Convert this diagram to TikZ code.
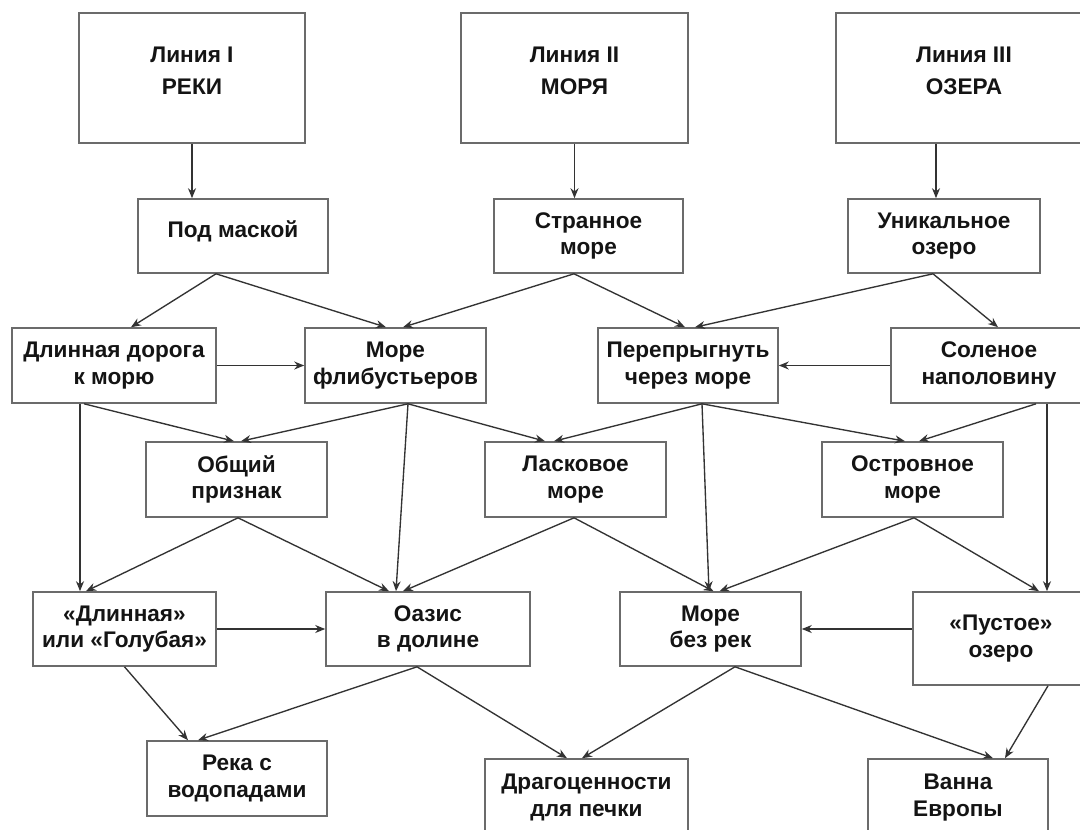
\documentclass[tikz,border=0pt]{standalone}
\usepackage{fontspec}
\setmainfont{Liberation Sans}
\usetikzlibrary{arrows.meta}
\definecolor{boxgray}{gray}{0.42}
\definecolor{linegray}{gray}{0.2}
\definecolor{textblack}{gray}{0.08}
\newcommand{\rb}[2]{\raisebox{#1}[\height][\depth]{\begin{tabular}{@{}c@{}}#2\end{tabular}}}
\begin{document}
\begin{tikzpicture}[x=1pt,y=-1pt,
  box/.style={draw=boxgray,line width=1.6pt,inner sep=0pt,minimum height=75pt,
    font=\bfseries\fontsize{22.6pt}{26.5pt}\selectfont,text=textblack,align=center},
  lbox/.style={box,minimum height=130pt,font=\bfseries\fontsize{22.6pt}{32pt}\selectfont},
  arr/.style={draw=linegray,line width=1.35pt,-{Stealth[length=10pt,width=8pt]}}]
\useasboundingbox (0,0) rectangle (1080,830);
\fill[white] (0,0) rectangle (1080,830);
\clip (0,0) rectangle (1080,830);
% row 1
\node[lbox,minimum width=226pt] (L1) at (192,78) {\rb{6pt}{Линия I\\РЕКИ}};
\node[lbox,minimum width=227pt] (L2) at (574.5,78) {\rb{6pt}{Линия II\\МОРЯ}};
\node[lbox,minimum width=256pt] (L3) at (964,78) {\rb{6pt}{Линия III\\ОЗЕРА}};
% row 2
\node[box,minimum width=190pt,minimum height=74pt] (pm) at (233,236) {\rb{4pt}{Под маской}};
\node[box,minimum width=189pt,minimum height=74pt] (sm) at (588.5,236) {Странное\\море};
\node[box,minimum width=192pt,minimum height=74pt] (uo) at (944,236) {Уникальное\\озеро};
% row 3
\node[box,minimum width=204pt] (dd) at (114,365.5) {Длинная дорога\\к морю};
\node[box,minimum width=181pt] (mf) at (395.5,365.5) {Море\\флибустьеров};
\node[box,minimum width=180pt] (pp) at (688,365.5) {Перепрыгнуть\\через море};
\node[box,minimum width=196pt] (sn) at (989,365.5) {Соленое\\наполовину};
% row 4
\node[box,minimum width=181pt] (op) at (236.5,479.5) {Общий\\признак};
\node[box,minimum width=181pt] (lm) at (575.5,479.5) {Ласковое\\море};
\node[box,minimum width=181pt] (om) at (912.5,479.5) {Островное\\море};
% row 5
\node[box,minimum width=183pt,minimum height=74pt] (dg) at (124.5,629) {«Длинная»\\или «Голубая»};
\node[box,minimum width=204pt,minimum height=74pt] (od) at (428,629) {Оазис\\в долине};
\node[box,minimum width=181pt,minimum height=74pt] (mbr) at (710.5,629) {Море\\без рек};
\node[box,minimum width=176pt,minimum height=93pt] (po) at (1001,638.5) {«Пустое»\\озеро};
% row 6
\node[box,minimum width=180pt] (rv) at (237,778.5) {Река с\\водопадами};
\node[box,minimum width=203pt,minimum height=77pt] (dp) at (586.5,797.5) {Драгоценности\\для печки};
\node[box,minimum width=180pt,minimum height=77pt] (ve) at (958,797.5) {Ванна\\Европы};
% helper coordinates
\coordinate (l3s) at ([xshift=-28pt]L3.south);
\coordinate (dds) at ([xshift=-34pt]dd.south);
\coordinate (sns) at ([xshift=58pt]sn.south);
% row 1 -> 2
\draw[arr] (L1.south) -- (L1.south |- pm.north);
\draw[arr] (L2.south) -- (L2.south |- sm.north);
\draw[arr] (l3s) -- (l3s |- uo.north);
% row 2 -> 3
\draw[arr] ([xshift=-17pt]pm.south) -- ([xshift=17pt]dd.north);
\draw[arr] ([xshift=-17pt]pm.south) -- ([xshift=-9.5pt]mf.north);
\draw[arr] ([xshift=-14.5pt]sm.south) -- ([xshift=7.5pt]mf.north);
\draw[arr] ([xshift=-14.5pt]sm.south) -- ([xshift=-3pt]pp.north);
\draw[arr] ([xshift=-11pt]uo.south) -- ([xshift=7pt]pp.north);
\draw[arr] ([xshift=-11pt]uo.south) -- ([xshift=9pt]sn.north);
% row 3 horizontals
\draw[arr] (dd.east) -- (mf.west);
\draw[arr] (sn.west) -- (pp.east);
% row 3 -> 4/5
\draw[arr] (dds) -- (dds |- dg.north);
\draw[arr] ([xshift=-30pt]dd.south) -- ([xshift=-2.5pt]op.north);
\draw[arr] ([xshift=12.5pt]mf.south) -- ([xshift=4.5pt]op.north);
\draw[arr] ([xshift=12.5pt]mf.south) -- ([xshift=-32pt]od.north);
\draw[arr] ([xshift=12.5pt]mf.south) -- ([xshift=-30.5pt]lm.north);
\draw[arr] ([xshift=14pt]pp.south) -- ([xshift=-21.5pt]lm.north);
\draw[arr] ([xshift=14pt]pp.south) -- ([xshift=-1.5pt]mbr.north);
\draw[arr] ([xshift=14pt]pp.south) -- ([xshift=-7.5pt]om.north);
\draw[arr] ([xshift=47pt]sn.south) -- ([xshift=6.5pt]om.north);
\draw[arr] (sns) -- (sns |- po.north);
% row 4 -> 5
\draw[arr] ([xshift=1.5pt]op.south) -- ([xshift=-38.5pt]dg.north);
\draw[arr] ([xshift=1.5pt]op.south) -- ([xshift=-39pt]od.north);
\draw[arr] ([xshift=-1.5pt]lm.south) -- ([xshift=-25pt]od.north);
\draw[arr] ([xshift=-1.5pt]lm.south) -- ([xshift=3pt]mbr.north);
\draw[arr] ([xshift=1.5pt]om.south) -- ([xshift=9pt]mbr.north);
\draw[arr] ([xshift=1.5pt]om.south) -- ([xshift=38pt]po.north);
% row 5 horizontals
\draw[arr] (dg.east) -- (od.west);
\draw[arr] (po.west |- mbr.east) -- (mbr.east);
% row 5 -> 6
\draw[arr] (dg.south) -- ([xshift=-49pt]rv.north);
\draw[arr] ([xshift=-11pt]od.south) -- ([xshift=-39pt]rv.north);
\draw[arr] ([xshift=-11pt]od.south) -- ([xshift=-19.5pt]dp.north);
\draw[arr] ([xshift=24.5pt]mbr.south) -- ([xshift=-4.5pt]dp.north);
\draw[arr] ([xshift=24.5pt]mbr.south) -- ([xshift=35pt]ve.north);
\draw[arr] ([xshift=47pt]po.south) -- ([xshift=47pt]ve.north);
\end{tikzpicture}
\end{document}
